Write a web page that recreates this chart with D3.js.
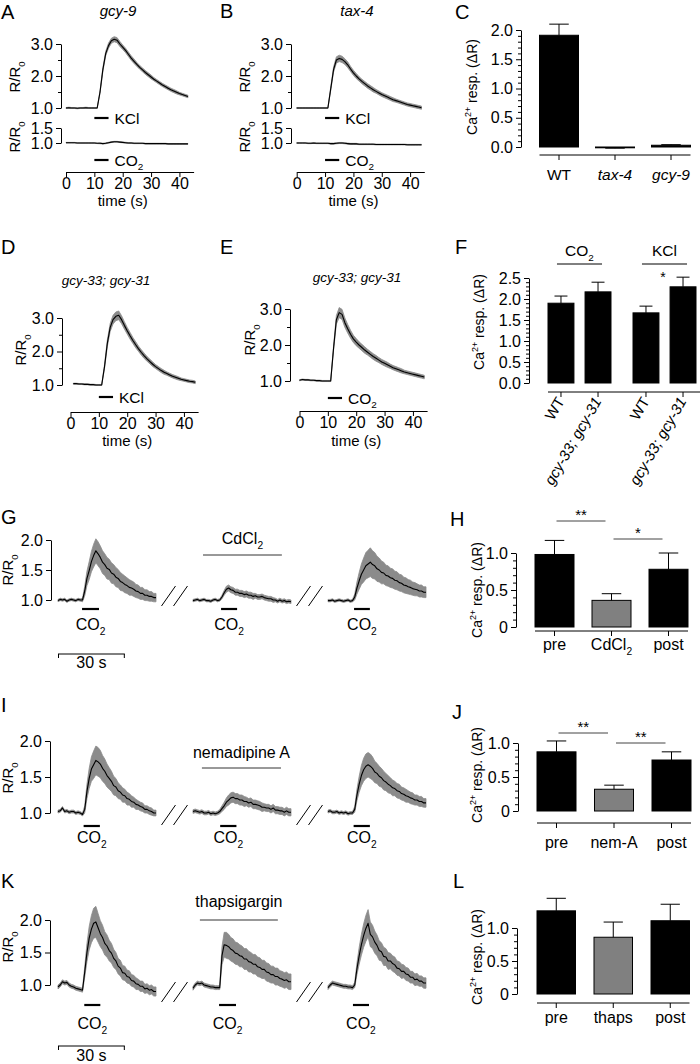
<!DOCTYPE html>
<html><head><meta charset="utf-8">
<script src="https://cdn.jsdelivr.net/npm/d3@7"></script>
<style>body{margin:0;background:#fff}svg{display:block}</style>
</head><body>
<script>
// ---------------- DATA ----------------
const timeTicks = [0, 10, 20, 30, 40];
const stimAE = [10, 15];

// Panel A (gcy-9), 1 s samples from t=0
const aKclMean = [1.00,1.01,1.00,1.00,0.99,1.00,1.00,1.01,1.00,1.00,1.00,1.00,1.50,2.20,2.70,2.95,3.10,3.15,3.12,3.00,2.90,2.80,2.68,2.56,2.46,2.36,2.27,2.19,2.11,2.04,1.97,1.90,1.84,1.78,1.72,1.67,1.62,1.57,1.53,1.49,1.45,1.42,1.39,1.36];
const aKclSem  = [0.015,0.015,0.015,0.015,0.015,0.015,0.015,0.015,0.015,0.015,0.015,0.015,0.04,0.06,0.07,0.08,0.08,0.08,0.08,0.08,0.07,0.07,0.07,0.07,0.07,0.06,0.06,0.06,0.06,0.06,0.06,0.05,0.05,0.05,0.05,0.05,0.05,0.05,0.05,0.05,0.04,0.04,0.04,0.04];
const aCo2Mean = [1.01,1.01,1.01,1.01,1.00,1.00,1.00,1.00,1.00,1.00,1.00,0.99,0.99,0.98,0.99,1.01,1.03,1.04,1.04,1.03,1.02,1.01,1.00,1.00,0.99,0.99,0.99,0.99,0.98,0.98,0.98,0.98,0.98,0.98,0.98,0.98,0.97,0.97,0.97,0.97,0.97,0.97,0.97,0.97];
const aCo2Sem  = [0.01,0.01,0.01,0.01,0.01,0.01,0.01,0.01,0.01,0.01,0.01,0.01,0.015,0.015,0.015,0.015,0.015,0.015,0.015,0.015,0.015,0.015,0.015,0.015,0.012,0.012,0.012,0.012,0.012,0.012,0.012,0.012,0.012,0.012,0.012,0.012,0.012,0.012,0.012,0.012,0.012,0.012,0.012,0.012];

// Panel B (tax-4)
const bKclMean = [1.00,1.00,1.00,1.00,1.00,1.00,1.00,1.00,1.00,1.00,1.00,1.00,1.60,2.20,2.50,2.55,2.52,2.45,2.35,2.22,2.10,2.00,1.91,1.83,1.76,1.69,1.63,1.57,1.52,1.47,1.42,1.38,1.34,1.30,1.26,1.23,1.20,1.17,1.14,1.11,1.09,1.07,1.05,1.03,1.01];
const bKclSem  = [0.015,0.015,0.015,0.015,0.015,0.015,0.015,0.015,0.015,0.015,0.015,0.015,0.05,0.08,0.10,0.10,0.10,0.09,0.09,0.08,0.08,0.08,0.07,0.07,0.07,0.07,0.07,0.07,0.06,0.06,0.06,0.06,0.06,0.06,0.06,0.05,0.05,0.05,0.05,0.05,0.05,0.05,0.05,0.05,0.05];
const bCo2Mean = [1.00,1.00,1.00,1.00,0.99,0.99,1.00,0.99,0.99,0.99,0.99,0.99,0.98,0.98,0.99,1.00,1.00,0.99,0.98,0.97,0.97,0.97,0.96,0.96,0.96,0.96,0.96,0.96,0.95,0.95,0.95,0.95,0.95,0.95,0.95,0.95,0.95,0.95,0.95,0.94,0.94,0.94,0.94,0.94,0.94];
const bCo2Sem  = [0.012,0.012,0.012,0.012,0.012,0.012,0.012,0.012,0.012,0.012,0.012,0.012,0.018,0.018,0.018,0.018,0.018,0.018,0.018,0.018,0.018,0.018,0.015,0.015,0.015,0.015,0.015,0.015,0.015,0.015,0.015,0.015,0.015,0.015,0.015,0.015,0.015,0.015,0.015,0.015,0.015,0.015,0.015,0.015,0.015];

// Panel D (gcy-33; gcy-31, KCl), from t=1
const dKclMean = [1.04,1.04,1.03,1.03,1.02,1.02,1.01,1.01,1.00,1.00,1.00,1.55,2.25,2.72,2.95,3.05,3.08,2.95,2.78,2.62,2.47,2.33,2.20,2.08,1.97,1.87,1.78,1.70,1.62,1.55,1.49,1.43,1.38,1.34,1.30,1.26,1.23,1.20,1.17,1.15,1.13,1.11,1.10,1.08];
const dKclSem  = [0.015,0.015,0.015,0.015,0.015,0.015,0.015,0.015,0.015,0.015,0.015,0.06,0.10,0.12,0.13,0.13,0.13,0.12,0.11,0.10,0.10,0.09,0.09,0.08,0.08,0.08,0.07,0.07,0.07,0.06,0.06,0.06,0.06,0.05,0.05,0.05,0.05,0.05,0.04,0.04,0.04,0.04,0.04,0.04];

// Panel E (gcy-33; gcy-31, CO2), from t=0
const eCo2Mean = [1.02,1.04,1.03,1.03,1.02,1.02,1.01,1.01,1.00,1.00,1.00,1.00,1.90,2.70,2.90,2.85,2.62,2.45,2.30,2.17,2.08,2.00,1.93,1.86,1.80,1.74,1.68,1.63,1.58,1.53,1.49,1.45,1.41,1.37,1.34,1.31,1.28,1.25,1.23,1.21,1.19,1.17,1.15,1.13,1.11];
const eCo2Sem  = [0.015,0.015,0.015,0.015,0.015,0.015,0.015,0.015,0.015,0.015,0.015,0.015,0.06,0.12,0.14,0.14,0.13,0.12,0.11,0.10,0.10,0.09,0.09,0.09,0.08,0.08,0.08,0.08,0.07,0.07,0.07,0.07,0.06,0.06,0.06,0.06,0.06,0.05,0.05,0.05,0.05,0.05,0.05,0.05,0.05];

// Panel C
const cCats = ['WT', 'tax-4', 'gcy-9'];
const cVals = [1.91, -0.01, 0.03];
const cSems = [0.19, 0.01, 0.01];

// Panel F
const fGroups = ['CO_2', 'KCl'];
const fGenos = ['WT', 'gcy-33; gcy-31'];
const fVals = [[1.90, 2.17], [1.67, 2.29]];
const fSems = [[0.17, 0.23], [0.16, 0.23]];

// Panel G (CdCl2): three 45 s segments, 1 s samples
const gMean1 = [0.99,1.01,1.00,1.01,0.98,1.00,1.01,1.00,0.99,1.01,1.00,1.00,1.15,1.36,1.49,1.64,1.74,1.82,1.77,1.71,1.63,1.59,1.53,1.51,1.45,1.43,1.38,1.36,1.31,1.29,1.26,1.24,1.21,1.20,1.18,1.15,1.14,1.11,1.11,1.08,1.08,1.06,1.06,1.04,1.04];
const gSem1  = [0.02,0.02,0.02,0.02,0.02,0.02,0.02,0.02,0.02,0.02,0.02,0.03,0.08,0.12,0.15,0.17,0.19,0.20,0.20,0.19,0.19,0.18,0.18,0.17,0.17,0.16,0.16,0.15,0.15,0.14,0.14,0.13,0.13,0.12,0.12,0.11,0.11,0.10,0.10,0.09,0.09,0.08,0.08,0.07,0.07];
const gMean2 = [0.99,1.00,1.01,0.99,1.00,1.01,0.99,0.99,0.98,1.00,1.01,0.99,1.00,1.05,1.12,1.18,1.20,1.17,1.16,1.13,1.13,1.11,1.11,1.09,1.10,1.08,1.08,1.06,1.07,1.05,1.05,1.06,1.04,1.03,1.02,1.02,1.00,1.00,0.98,1.00,0.98,0.99,0.97,0.98,0.97];
const gSem2  = [0.02,0.02,0.02,0.02,0.02,0.02,0.02,0.02,0.02,0.02,0.02,0.02,0.02,0.03,0.04,0.05,0.05,0.05,0.05,0.05,0.05,0.05,0.05,0.05,0.05,0.05,0.05,0.05,0.04,0.04,0.04,0.04,0.04,0.04,0.04,0.04,0.04,0.03,0.03,0.03,0.03,0.03,0.03,0.03,0.03];
const gMean3 = [0.99,0.99,1.00,0.98,0.99,1.00,0.99,0.98,0.99,1.00,0.98,0.99,1.05,1.20,1.32,1.43,1.50,1.57,1.60,1.63,1.59,1.57,1.52,1.50,1.46,1.45,1.41,1.40,1.37,1.36,1.33,1.32,1.29,1.28,1.25,1.24,1.22,1.21,1.19,1.18,1.17,1.15,1.15,1.13,1.13];
const gSem3  = [0.02,0.02,0.02,0.02,0.02,0.02,0.02,0.02,0.02,0.02,0.02,0.02,0.05,0.10,0.14,0.17,0.20,0.22,0.23,0.24,0.23,0.22,0.21,0.20,0.19,0.18,0.17,0.17,0.16,0.16,0.15,0.15,0.14,0.14,0.13,0.13,0.12,0.12,0.11,0.11,0.10,0.10,0.10,0.09,0.09];
const gStim = [[10.8, 18.4], [12.6, 19.8], [11.7, 18.8]];
const gDrug = [4.5, 39.9];

// Panel I (nemadipine A)
const iMean1 = [1.02,1.03,1.07,1.02,1.03,1.01,1.02,1.02,1.00,1.01,1.00,0.98,1.05,1.30,1.48,1.61,1.67,1.73,1.71,1.68,1.62,1.58,1.52,1.48,1.44,1.38,1.36,1.31,1.29,1.25,1.24,1.20,1.19,1.16,1.15,1.12,1.11,1.09,1.08,1.05,1.05,1.03,1.02,1.00,1.00];
const iSem1  = [0.02,0.02,0.02,0.02,0.02,0.02,0.02,0.02,0.02,0.02,0.02,0.02,0.05,0.10,0.14,0.17,0.19,0.20,0.20,0.19,0.18,0.17,0.16,0.15,0.14,0.13,0.12,0.11,0.10,0.10,0.09,0.09,0.08,0.08,0.07,0.07,0.06,0.06,0.06,0.05,0.05,0.05,0.05,0.04,0.04];
const iMean2 = [1.02,1.03,1.02,1.01,1.02,1.00,1.00,1.01,0.99,1.00,0.99,1.00,1.02,1.06,1.10,1.15,1.18,1.21,1.22,1.20,1.20,1.18,1.18,1.16,1.16,1.14,1.15,1.12,1.12,1.11,1.10,1.08,1.08,1.07,1.07,1.05,1.07,1.04,1.04,1.03,1.03,1.01,1.03,1.01,1.01];
const iSem2  = [0.025,0.025,0.025,0.025,0.025,0.025,0.025,0.025,0.025,0.025,0.025,0.025,0.03,0.04,0.05,0.06,0.07,0.07,0.07,0.07,0.07,0.07,0.07,0.07,0.06,0.06,0.06,0.06,0.06,0.06,0.06,0.06,0.05,0.05,0.05,0.05,0.05,0.05,0.05,0.05,0.05,0.05,0.05,0.05,0.05];
const iMean3 = [1.02,1.03,1.01,1.01,1.02,1.00,1.01,1.00,1.01,0.99,1.00,1.00,1.05,1.25,1.40,1.52,1.60,1.65,1.67,1.65,1.62,1.57,1.55,1.51,1.49,1.45,1.43,1.40,1.38,1.35,1.34,1.31,1.30,1.27,1.26,1.24,1.23,1.21,1.20,1.18,1.18,1.16,1.16,1.14,1.14];
const iSem3  = [0.02,0.02,0.02,0.02,0.02,0.02,0.02,0.02,0.02,0.02,0.02,0.02,0.04,0.08,0.11,0.14,0.16,0.17,0.17,0.17,0.16,0.15,0.14,0.14,0.13,0.13,0.12,0.12,0.11,0.11,0.10,0.10,0.10,0.09,0.09,0.09,0.08,0.08,0.08,0.07,0.07,0.07,0.07,0.06,0.06];
const iStim = [[11.5, 18.8], [12.2, 19.5], [11.5, 18.8]];
const iDrug = [4.0, 39.5];

// Panel K (thapsigargin)
const kMean1 = [0.97,1.00,1.05,1.03,1.04,1.00,0.98,0.97,0.95,0.94,0.93,0.92,1.20,1.50,1.72,1.86,1.95,1.97,1.88,1.79,1.73,1.64,1.60,1.53,1.49,1.41,1.37,1.29,1.26,1.19,1.18,1.13,1.12,1.07,1.06,1.02,1.01,0.98,0.98,0.94,0.95,0.92,0.93,0.90,0.90];
const kSem1  = [0.03,0.03,0.03,0.03,0.03,0.03,0.03,0.03,0.03,0.03,0.03,0.03,0.08,0.14,0.18,0.21,0.23,0.24,0.22,0.20,0.19,0.18,0.17,0.16,0.15,0.14,0.13,0.12,0.12,0.11,0.11,0.10,0.10,0.09,0.09,0.09,0.08,0.08,0.08,0.07,0.07,0.07,0.07,0.07,0.07];
const kMean2 = [0.95,1.00,1.03,1.02,1.03,1.00,0.99,0.98,0.97,0.97,0.96,0.96,0.96,1.45,1.62,1.61,1.59,1.55,1.53,1.49,1.48,1.45,1.44,1.40,1.40,1.36,1.35,1.32,1.32,1.28,1.27,1.24,1.24,1.20,1.19,1.16,1.16,1.13,1.13,1.10,1.09,1.07,1.08,1.05,1.05];
const kSem2  = [0.03,0.03,0.03,0.03,0.03,0.03,0.03,0.03,0.03,0.03,0.03,0.03,0.03,0.14,0.19,0.20,0.19,0.18,0.18,0.17,0.17,0.17,0.16,0.16,0.16,0.16,0.15,0.15,0.15,0.15,0.15,0.14,0.14,0.14,0.14,0.13,0.13,0.13,0.13,0.12,0.12,0.12,0.12,0.12,0.12];
const kMean3 = [0.96,1.00,1.03,1.02,1.01,1.00,0.99,0.98,0.98,0.97,0.97,0.96,1.00,1.25,1.45,1.62,1.76,1.87,1.95,1.78,1.74,1.66,1.61,1.53,1.51,1.44,1.43,1.37,1.37,1.33,1.31,1.26,1.25,1.21,1.21,1.17,1.16,1.12,1.12,1.08,1.09,1.06,1.06,1.03,1.03];
const kSem3  = [0.03,0.03,0.03,0.03,0.03,0.03,0.03,0.03,0.03,0.03,0.03,0.03,0.04,0.09,0.13,0.16,0.18,0.20,0.21,0.19,0.18,0.17,0.16,0.15,0.14,0.14,0.13,0.13,0.12,0.12,0.12,0.11,0.11,0.11,0.10,0.10,0.10,0.09,0.09,0.09,0.09,0.08,0.08,0.08,0.08];
const kStim = [[11.8, 19.0], [11.7, 19.3], [11.2, 18.4]];
const kDrug = [3.1, 38.1];

// Bar panels H, J, L
const hCats = ['pre', 'CdCl_2', 'post'];
const hVals = [0.98, 0.36, 0.78];
const hSems = [0.19, 0.09, 0.22];
const jCats = ['pre', 'nem-A', 'post'];
const jVals = [0.87, 0.32, 0.75];
const jSems = [0.16, 0.06, 0.12];
const lCats = ['pre', 'thaps', 'post'];
const lVals = [1.26, 0.86, 1.11];
const lSems = [0.19, 0.23, 0.25];
const barFills = ['#000000', '#808080', '#000000'];

// ---------------- DRAWING ----------------
const FONT = "'Liberation Sans', Arial, Helvetica, sans-serif";
const BAND = '#8b8b8b';
const TICK = 16;
const svg = d3.select('body').append('svg').attr('width', 700).attr('height', 1064)
  .attr('font-family', FONT).style('background', '#fff');

function parts(s) {
  const out = []; const re = /_(\w)|\^\{([^}]*)\}/g; let last = 0, m;
  while ((m = re.exec(s))) {
    if (m.index > last) out.push({t: s.slice(last, m.index)});
    if (m[1]) out.push({t: m[1], sub: true}); else out.push({t: m[2], sup: true});
    last = re.lastIndex;
  }
  if (last < s.length) out.push({t: s.slice(last)});
  return out;
}
function label(g, x, y, s, o = {}) {
  const size = o.size || 15;
  const t = g.append('text').attr('x', x).attr('y', y).attr('font-size', size)
    .attr('text-anchor', o.anchor || 'middle').attr('fill', '#000');
  if (o.italic) t.attr('font-style', 'italic');
  if (o.rotate != null) t.attr('transform', `rotate(${o.rotate},${x},${y})`);
  let shift = 0;
  parts(s).forEach(p => {
    const target = p.sub ? 0.3 * size : p.sup ? -0.42 * size : 0;
    const ts = t.append('tspan').text(p.t);
    if (target - shift !== 0) ts.attr('dy', target - shift);
    if (p.sub || p.sup) ts.attr('font-size', size * 0.64);
    shift = target;
  });
  return t;
}
function ylabel(g, cx, cy, s, size = 15) { return label(g, cx + 0.35 * size, cy, s, {rotate: -90, size}); }
function letter(g, x, y, s) { label(g, x, y, s, {size: 20, anchor: 'start'}); }
function styleAxis(a, size) {
  a.attr('font-family', FONT).attr('font-size', size);
  a.selectAll('path,line').attr('stroke', '#000').attr('stroke-width', 1);
  a.selectAll('text').attr('fill', '#000');
}
function yAxis(g, xPos, y, major, minor, fmt, size = TICK) {
  const a = g.append('g').attr('transform', `translate(${xPos},0)`)
    .call(d3.axisLeft(y).tickValues(major).tickFormat(fmt).tickSize(5).tickSizeOuter(0).tickPadding(3));
  if (minor && minor.length) {
    const m = a.append('g').call(d3.axisLeft(y).tickValues(minor).tickFormat('').tickSize(3).tickSizeOuter(0));
    m.select('.domain').remove();
  }
  styleAxis(a, size);
}
function xAxis(g, yPos, x, ticks) {
  const a = g.append('g').attr('transform', `translate(0,${yPos})`)
    .call(d3.axisBottom(x).tickValues(ticks).tickSize(5).tickSizeOuter(0).tickPadding(1));
  styleAxis(a, TICK);
}
function trace(g, x, y, mean, sem, t0) {
  const pts = mean.map((m, i) => ({t: t0 + i, m, s: sem[i]}));
  g.append('path').attr('d', d3.area().x(d => x(d.t)).y0(d => y(d.m - d.s)).y1(d => y(d.m + d.s))(pts))
    .attr('fill', BAND).attr('stroke', BAND).attr('stroke-width', 0.8).attr('stroke-linejoin', 'round');
  g.append('path').attr('d', d3.line().x(d => x(d.t)).y(d => y(d.m))(pts))
    .attr('fill', 'none').attr('stroke', '#000').attr('stroke-width', 1.1).attr('stroke-linejoin', 'round');
}
function hline(g, x1, x2, y, w = 1, c = '#000') {
  g.append('line').attr('x1', x1).attr('x2', x2).attr('y1', y).attr('y2', y).attr('stroke', c).attr('stroke-width', w);
}
function vline(g, x, y1, y2, w = 1, c = '#000') {
  g.append('line').attr('x1', x).attr('x2', x).attr('y1', y1).attr('y2', y2).attr('stroke', c).attr('stroke-width', w);
}
function stimSide(g, x, stim, yPos, name) {
  hline(g, x(stim[0]), x(stim[1]), yPos, 2.2);
  label(g, x(stim[1]) + 6, yPos + 5.5, name, {anchor: 'start', size: 15.5});
}
function stimBelow(g, x, stim, yPos, textY) {
  hline(g, x(stim[0]), x(stim[1]), yPos, 2.2);
  label(g, (x(stim[0]) + x(stim[1])) / 2, textY, 'CO_2', {size: 16});
}
function breakMark(g, cx, yBot) {
  [-6, 6].forEach(o => {
    g.append('line').attr('x1', cx + o - 7).attr('y1', yBot).attr('x2', cx + o + 7).attr('y2', yBot - 20)
      .attr('stroke', '#000').attr('stroke-width', 1);
  });
}
function bandScale(cats, left, step, width) {
  const pi = 1 - width / step, po = pi / 2;
  return d3.scaleBand().domain(cats).range([left - po * step, left - po * step + step * cats.length])
    .paddingInner(pi).paddingOuter(po);
}
function bar(g, x0, w, y, v, s, fill) {
  g.append('rect').attr('x', x0).attr('y', Math.min(y(v), y(0))).attr('width', w)
    .attr('height', Math.max(0.8, Math.abs(y(v) - y(0)))).attr('fill', fill).attr('stroke', '#000').attr('stroke-width', 1);
  const cx = x0 + w / 2, e = v + (v < 0 ? -s : s);
  vline(g, cx, y(v), y(e));
  hline(g, cx - w / 4, cx + w / 4, y(e));
}
function barXAxis(g, centers, left, right, yPos, labels, labelY, italics, size = 16) {
  hline(g, left, right, yPos);
  centers.forEach((c, i) => {
    vline(g, c, yPos, yPos + 5);
    if (labels) label(g, c, labelY, labels[i], {italic: italics && italics[i], size});
  });
}
const fmt1 = d3.format('.1f');
const fmtBar = d => d === 0 ? '0' : d3.format('.1f')(d);
const minorTicks = (lo, hi, majors) => d3.range(lo, hi + 1e-9, 0.1).filter(v => !majors.some(m => Math.abs(m - v) < 1e-6));

// ---------- Panel A ----------
{
  const g = svg.append('g');
  const x = d3.scaleLinear().domain([0, 45]).range([66, 193.6]);
  const y1 = d3.scaleLinear().domain([1, 3]).range([108, 44]);
  const y2 = d3.scaleLinear().domain([1, 1.5]).range([143, 128]);
  trace(g, x, y1, aKclMean, aKclSem, 0);
  trace(g, x, y2, aCo2Mean, aCo2Sem, 0);
  yAxis(g, 61, y1, [1, 2, 3], [1.5, 2.5], fmt1);
  yAxis(g, 61, y2, [1, 1.5], [], fmt1);
  xAxis(g, 172, x, timeTicks);
  stimSide(g, x, stimAE, 118, 'KCl');
  stimSide(g, x, stimAE, 160, 'CO_2');
  ylabel(g, 15, 77, 'R/R_0');
  ylabel(g, 15, 137, 'R/R_0');
  label(g, x(20), 206, 'time (s)');
  label(g, 118, 16, 'gcy-9', {italic: true});
  letter(g, 1, 19, 'A');
}
// ---------- Panel B ----------
{
  const g = svg.append('g');
  const x = d3.scaleLinear().domain([0, 45]).range([296.7, 424.3]);
  const y1 = d3.scaleLinear().domain([1, 3]).range([108, 44]);
  const y2 = d3.scaleLinear().domain([1, 1.5]).range([143, 128]);
  trace(g, x, y1, bKclMean, bKclSem, 0);
  trace(g, x, y2, bCo2Mean, bCo2Sem, 0);
  yAxis(g, 291, y1, [1, 2, 3], [1.5, 2.5], fmt1);
  yAxis(g, 291, y2, [1, 1.5], [], fmt1);
  xAxis(g, 172, x, timeTicks);
  stimSide(g, x, stimAE, 118, 'KCl');
  stimSide(g, x, stimAE, 160, 'CO_2');
  ylabel(g, 245, 77, 'R/R_0');
  ylabel(g, 245, 137, 'R/R_0');
  label(g, x(20), 206, 'time (s)');
  label(g, 357, 16, 'tax-4', {italic: true});
  letter(g, 220, 18, 'B');
}
// ---------- Panel C ----------
{
  const g = svg.append('g');
  const y = d3.scaleLinear().domain([0, 2]).range([147, 30]);
  const xb = bandScale(cCats, 539.5, 56, 39);
  cCats.forEach((c, i) => bar(g, xb(c), xb.bandwidth(), y, cVals[i], cSems[i], '#000'));
  yAxis(g, 521, y, [0, 0.5, 1, 1.5, 2], minorTicks(0, 2, [0, 0.5, 1, 1.5, 2]), fmt1);
  const centers = cCats.map(c => xb(c) + xb.bandwidth() / 2);
  barXAxis(g, centers, xb(cCats[0]), xb(cCats[2]) + xb.bandwidth(), 155, cCats, 180, [false, true, true], 15.5);
  ylabel(g, 472, 87, 'Ca^{2+} resp. (ΔR)', 14);
  letter(g, 455, 19, 'C');
}
// ---------- Panel D ----------
{
  const g = svg.append('g');
  const x = d3.scaleLinear().domain([0, 45]).range([70.5, 198.1]);
  const y = d3.scaleLinear().domain([1, 3]).range([385, 318]);
  trace(g, x, y, dKclMean, dKclSem, 1);
  yAxis(g, 62, y, [1, 2, 3], [1.5, 2.5], fmt1);
  xAxis(g, 412, x, timeTicks);
  stimSide(g, x, stimAE, 397, 'KCl');
  ylabel(g, 21, 350, 'R/R_0');
  label(g, x(20), 446, 'time (s)');
  label(g, 106, 285, 'gcy-33; gcy-31', {italic: true, size: 13.5});
  letter(g, 1, 254, 'D');
}
// ---------- Panel E ----------
{
  const g = svg.append('g');
  const x = d3.scaleLinear().domain([0, 45]).range([299.5, 427.1]);
  const y = d3.scaleLinear().domain([1, 3]).range([381, 309]);
  trace(g, x, y, eCo2Mean, eCo2Sem, 0);
  yAxis(g, 290, y, [1, 2, 3], [1.5, 2.5], fmt1);
  xAxis(g, 411, x, timeTicks);
  stimSide(g, x, stimAE, 398, 'CO_2');
  ylabel(g, 250, 340, 'R/R_0');
  label(g, x(20), 446, 'time (s)');
  label(g, 357, 282, 'gcy-33; gcy-31', {italic: true, size: 13.5});
  letter(g, 220, 254, 'E');
}
// ---------- Panel F ----------
{
  const g = svg.append('g');
  const y = d3.scaleLinear().domain([0, 2.5]).range([383, 278]);
  const x0 = d3.scaleBand().domain(fGroups).range([548, 696]).paddingInner(0.259);
  const x1 = d3.scaleBand().domain(fGenos).range([0, x0.bandwidth()]).paddingInner(0.3);
  const centers = [];
  fGroups.forEach((gr, gi) => fGenos.forEach((ge, ki) => {
    const bx = x0(gr) + x1(ge);
    bar(g, bx, x1.bandwidth(), y, fVals[gi][ki], fSems[gi][ki], '#000');
    centers.push(bx + x1.bandwidth() / 2);
  }));
  const majors = [0, 0.5, 1, 1.5, 2, 2.5];
  yAxis(g, 529, y, majors, minorTicks(0, 2.5, majors), fmt1);
  barXAxis(g, centers, 548, 700, 392, null);
  centers.forEach((c, i) => {
    const ge = fGenos[i % 2];
    label(g, c + 4, 401, ge, {anchor: 'end', rotate: -60, italic: ge !== 'WT', size: 15});
  });
  fGroups.forEach(gr => {
    const l = x0(gr) + x1.bandwidth() / 2 - 4, r = x0(gr) + x0.bandwidth() - x1.bandwidth() / 2 + 4;
    hline(g, l, r, 264);
    label(g, (l + r) / 2, 256, gr, {size: 15.5});
  });
  label(g, centers[3] - 20, 282, '*', {size: 14});
  ylabel(g, 479, 322, 'Ca^{2+} resp. (ΔR)', 14);
  letter(g, 455, 254, 'F');
}
// ---------- Segment trace panels G, I, K ----------
function segPanel(o) {
  const g = svg.append('g');
  const segX0 = [58, 193, 328];
  const xs = segX0.map(a => d3.scaleLinear().domain([0, 44]).range([a, a + 98]));
  o.means.forEach((m, i) => trace(g, xs[i], o.y, m, o.sems[i], 0));
  yAxis(g, o.axisX, o.y, [1, 1.5, 2], [], fmt1);
  o.stims.forEach((s, i) => stimBelow(g, xs[i], s, o.stimY, o.stimTextY));
  hline(g, xs[1](o.drug[0]), xs[1](o.drug[1]), o.drugY, 1, '#333');
  label(g, (xs[1](o.drug[0]) + xs[1](o.drug[1])) / 2, o.drugTextY, o.drugName, {size: 16});
  breakMark(g, (xs[0](44) + xs[1](0)) / 2, o.breakY);
  breakMark(g, (xs[1](44) + xs[2](0)) / 2, o.breakY);
  ylabel(g, 8, o.labelY, 'R/R_0');
  if (o.scaleY) {
    const a = xs[0](0), b = xs[0](30);
    hline(g, a, b, o.scaleY);
    vline(g, a + 0.5, o.scaleY, o.scaleY + 4); vline(g, b - 0.5, o.scaleY, o.scaleY + 4);
    label(g, (a + b) / 2, o.scaleTextY, '30 s', {size: 16});
  }
  return g;
}
segPanel({y: d3.scaleLinear().domain([1, 2]).range([600, 540]), axisX: 51,
  means: [gMean1, gMean2, gMean3], sems: [gSem1, gSem2, gSem3], stims: gStim, stimY: 609, stimTextY: 630,
  drug: gDrug, drugY: 555, drugTextY: 544, drugName: 'CdCl_2', breakY: 606, labelY: 570,
  scaleY: 654, scaleTextY: 668});
letter(svg, 1, 524, 'G');
segPanel({y: d3.scaleLinear().domain([1, 2]).range([813, 741]), axisX: 50,
  means: [iMean1, iMean2, iMean3], sems: [iSem1, iSem2, iSem3], stims: iStim, stimY: 826, stimTextY: 843,
  drug: iDrug, drugY: 768, drugTextY: 758, drugName: 'nemadipine A', breakY: 825, labelY: 778});
letter(svg, 1, 712, 'I');
segPanel({y: d3.scaleLinear().domain([1, 2]).range([985, 920]), axisX: 50,
  means: [kMean1, kMean2, kMean3], sems: [kSem1, kSem2, kSem3], stims: kStim, stimY: 1005, stimTextY: 1029,
  drug: kDrug, drugY: 920, drugTextY: 907, drugName: 'thapsigargin', breakY: 1002, labelY: 947,
  scaleY: 1046, scaleTextY: 1061});
letter(svg, 1, 888, 'K');

// ---------- Bar panels H, J, L ----------
function barPanel(o) {
  const g = svg.append('g');
  const xb = bandScale(o.cats, o.left, o.step, o.width);
  o.cats.forEach((c, i) => bar(g, xb(c), xb.bandwidth(), o.y, o.vals[i], o.sems[i], barFills[i]));
  const majors = [0, 0.5, 1];
  yAxis(g, o.axisX, o.y, majors, minorTicks(0, 1, majors), fmtBar);
  const centers = o.cats.map(c => xb(c) + xb.bandwidth() / 2);
  barXAxis(g, centers, xb(o.cats[0]), xb(o.cats[2]) + xb.bandwidth(), o.lineY, o.cats, o.labelY);
  (o.sig || []).forEach(s => {
    const a = centers[s.from] + 2, b = centers[s.to] - 6;
    hline(g, a, b, s.y, 1, '#444');
    label(g, (a + b) / 2, s.y - 1, s.txt, {size: 15});
  });
  ylabel(g, 477, o.ylabY, 'Ca^{2+} resp. (ΔR)', 14);
  return g;
}
barPanel({cats: hCats, vals: hVals, sems: hSems, left: 535, step: 57, width: 39,
  y: d3.scaleLinear().domain([0, 1]).range([627, 553]), axisX: 516, lineY: 631, labelY: 650, ylabY: 590,
  sig: [{from: 0, to: 1, y: 521, txt: '**'}, {from: 1, to: 2, y: 539, txt: '*'}]});
letter(svg, 450, 526, 'H');
barPanel({cats: jCats, vals: jVals, sems: jSems, left: 537, step: 57.5, width: 39,
  y: d3.scaleLinear().domain([0, 1]).range([811, 743]), axisX: 518, lineY: 823, labelY: 848, ylabY: 775,
  sig: [{from: 0, to: 1, y: 733, txt: '**'}, {from: 1, to: 2, y: 743, txt: '**'}]});
letter(svg, 452, 719, 'J');
barPanel({cats: lCats, vals: lVals, sems: lSems, left: 537, step: 57, width: 38.5,
  y: d3.scaleLinear().domain([0, 1]).range([994, 928]), axisX: 517, lineY: 1003, labelY: 1023, ylabY: 957});
letter(svg, 453, 888, 'L');
</script>
</body></html>
